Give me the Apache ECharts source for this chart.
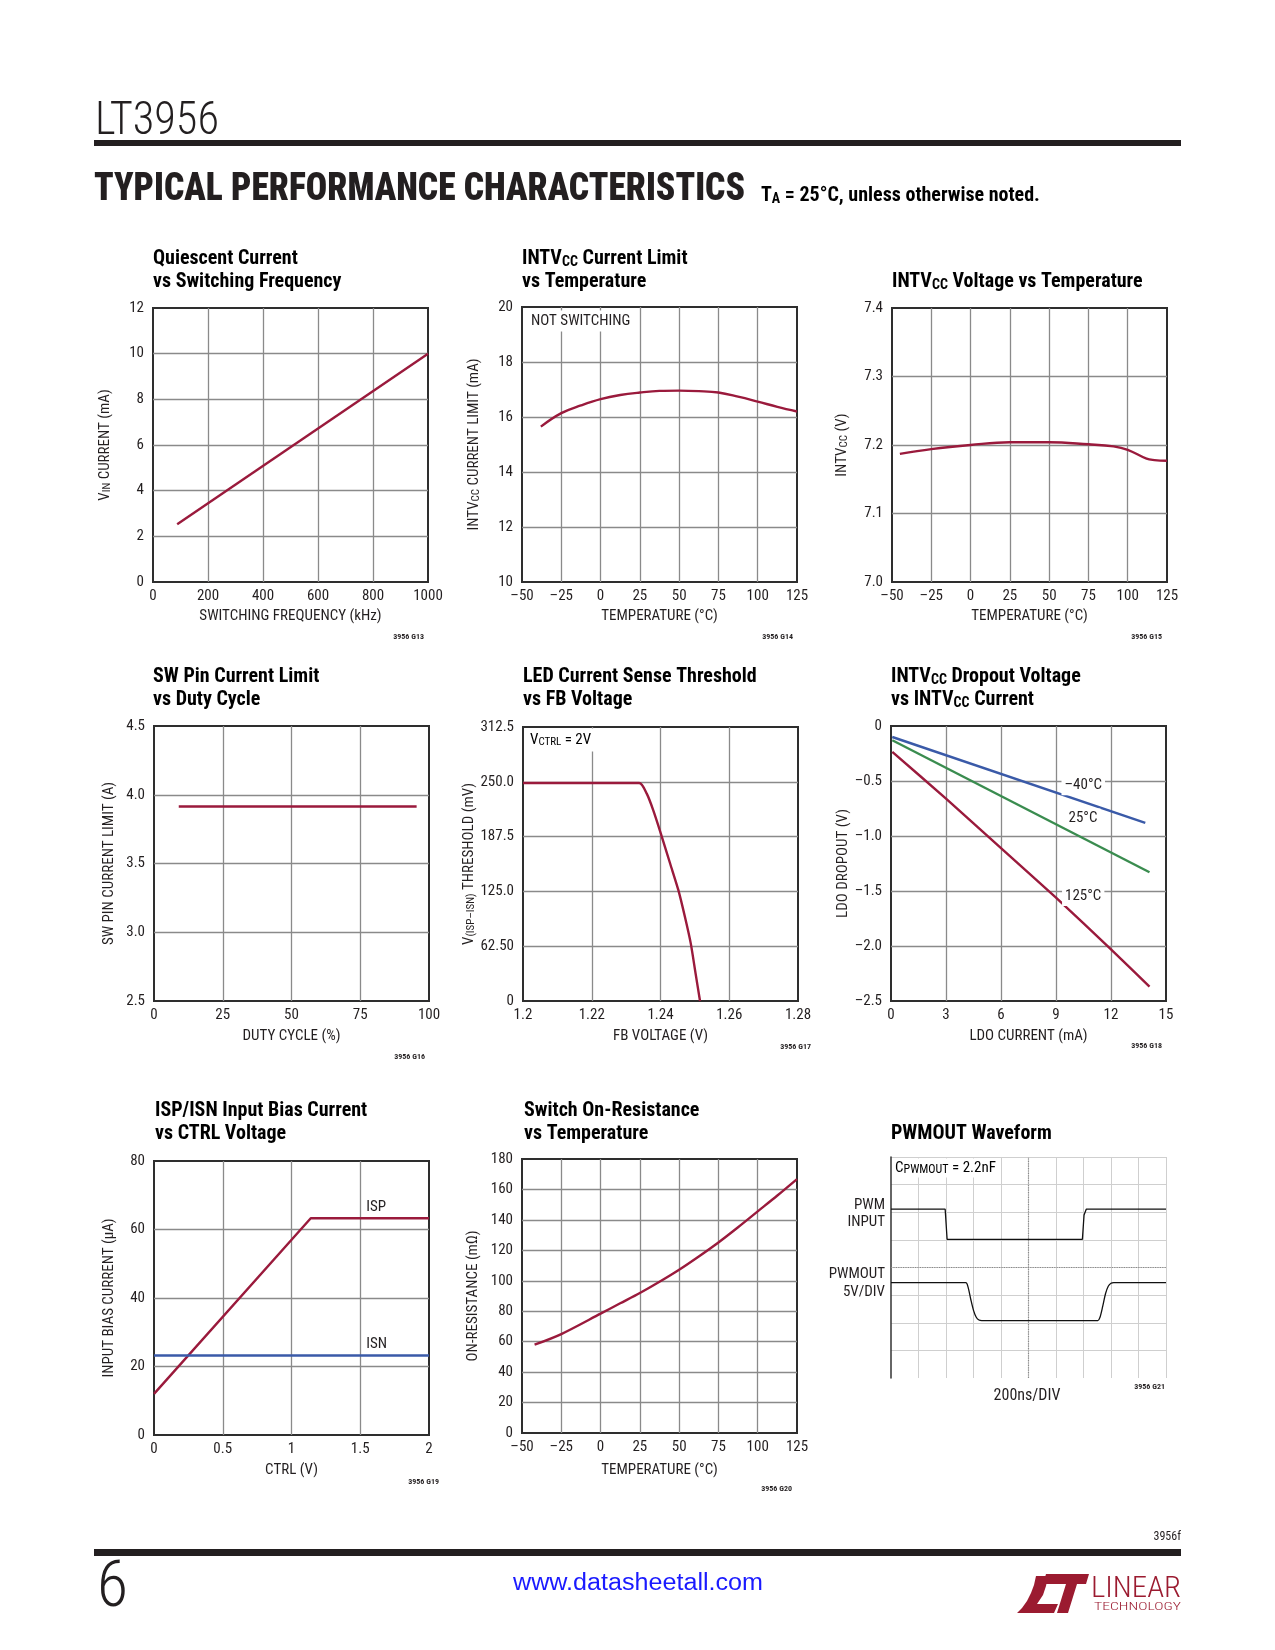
<!DOCTYPE html>
<html><head><meta charset="utf-8">
<script src="https://cdn.jsdelivr.net/npm/echarts@6/dist/echarts.min.js"></script>
<style>html,body{margin:0;padding:0;background:#fff}#c{width:1275px;height:1650px}</style>
</head><body><div id="c"></div>
<script>
// ---------- DATA ----------
const quiescentFreq = [88, 1000];
const quiescentCurrent = [2.53, 10];

const limitTemp = [-38, -25, -12.5, 0, 12.5, 25, 37.5, 50, 62.5, 75, 87.5, 100, 112.5, 125];
const limitCurrent = [15.65, 16.14, 16.42, 16.65, 16.8, 16.89, 16.95, 16.96, 16.94, 16.89, 16.74, 16.56, 16.37, 16.2];

const voltTemp = [-45, -25, 0, 25, 50, 75, 91, 100, 112, 117, 125];
const voltIntvcc = [7.187, 7.194, 7.200, 7.204, 7.204, 7.201, 7.198, 7.193, 7.180, 7.178, 7.177];

const swDuty = [9, 50, 95.5];
const swLimit = [3.915, 3.915, 3.915];

const fbVoltage = [1.2, 1.2338, 1.236, 1.2379, 1.2401, 1.2428, 1.2452, 1.2471, 1.2488, 1.2502, 1.2515];
const fbThreshold = [248.7, 248.7, 236.5, 217.5, 191, 156.8, 126.4, 96, 65.7, 31.5, 0];
const fbThresholdTicks = ['0', '62.50', '125.0', '187.5', '250.0', '312.5'];

const ldoCurrentM40 = [0.07, 13.87];
const ldoDropM40 = [-0.10, -0.88];
const ldoCurrent25 = [0.07, 14.1];
const ldoDrop25 = [-0.13, -1.33];
const ldoCurrent125 = [0.07, 3, 6, 9, 12, 14.1];
const ldoDrop125 = [-0.235, -0.66, -1.11, -1.56, -2.03, -2.37];
const ldoLabels = ['\u201340\u00b0C', '25\u00b0C', '125\u00b0C'];
const ldoLabelX = [9.3, 9.52, 9.33];
const ldoLabelY = [-0.543, -0.837, -1.55];

const ctrlIsp = [0, 1.14, 2];
const biasIsp = [12, 63.3, 63.3];
const ctrlIsn = [0, 2];
const biasIsn = [23.2, 23.2];
const biasLabels = ['ISP', 'ISN'];
const biasLabelX = [1.544, 1.544];
const biasLabelY = [66.5, 26.4];

const ronTemp = [-42, -25, 0, 12.5, 25, 37.5, 50, 62.5, 75, 87.5, 100, 112.5, 125];
const ronValue = [58, 65, 78.4, 85.2, 92, 99.4, 107.3, 116, 125.2, 135.2, 145.6, 156, 166.8];

const pwmTime = [0, 1.97, 2.04, 6.96, 7.02, 7.1, 10];
const pwmLevel = [6.11, 6.11, 5.02, 5.02, 5.9, 6.11, 6.11];
const pwmoutTime = [0, 2.72, 2.8, 2.9, 3.0, 3.1, 3.2, 3.3, 7.52, 7.6, 7.7, 7.8, 7.9, 8.0, 8.1, 10];
const pwmoutLevel = [3.45, 3.45, 3.3, 2.85, 2.45, 2.2, 2.1, 2.08, 2.08, 2.2, 2.6, 3.05, 3.32, 3.43, 3.45, 3.45];

const chartTitles = [
  ['Quiescent Current', 'vs Switching Frequency'],
  ['INTV_{CC} Current Limit', 'vs Temperature'],
  ['', 'INTV_{CC} Voltage vs Temperature'],
  ['SW Pin Current Limit', 'vs Duty Cycle'],
  ['LED Current Sense Threshold', 'vs FB Voltage'],
  ['INTV_{CC} Dropout Voltage', 'vs INTV_{CC} Current'],
  ['ISP/ISN Input Bias Current', 'vs CTRL Voltage'],
  ['Switch On-Resistance', 'vs Temperature'],
  ['', 'PWMOUT Waveform']
];
const chartCodes = ['3956 G13','3956 G14','3956 G15','3956 G16','3956 G17','3956 G18','3956 G19','3956 G20','3956 G21'];
const xNames = ['SWITCHING FREQUENCY (kHz)','TEMPERATURE (\u00b0C)','TEMPERATURE (\u00b0C)','DUTY CYCLE (%)','FB VOLTAGE (V)','LDO CURRENT (mA)','CTRL (V)','TEMPERATURE (\u00b0C)',''];
const yNames = ['V_{IN} CURRENT (mA)','INTV_{CC} CURRENT LIMIT (mA)','INTV_{CC} (V)','SW PIN CURRENT LIMIT (A)','V_{(ISP\u2013ISN)} THRESHOLD (mV)','LDO DROPOUT (V)','INPUT BIAS CURRENT (\u00b5A)','ON-RESISTANCE (m\u03a9)',''];

// ---------- LAYOUT / STYLE ----------
const F = "'Liberation Sans Narrow','Roboto Condensed','DejaVu Sans Condensed','Liberation Sans',sans-serif";
const INK = '#231f20';
const RED = '#9a1a3c', BLUE = '#3a5aa8', GREEN = '#3a8c4f';
const FS = 15;
const grids = [
  {left:153, top:308, width:275, height:274},
  {left:522, top:307, width:275, height:275},
  {left:892, top:308, width:275, height:274},
  {left:154, top:726, width:275, height:275},
  {left:523, top:727, width:275, height:274},
  {left:891, top:726, width:275, height:275},
  {left:154, top:1161, width:275, height:274},
  {left:522, top:1159, width:275, height:274},
  {left:891, top:1157, width:275, height:221}
];
const titleX = [153, 522, 892, 153, 523, 891, 155, 524, 891];
const titleBase = [265, 265, 265, 683, 683, 683, 1117, 1117, 1117];
const codePos = [[424,637],[793,637],[1162,637],[425,1057],[811,1047],[1162,1046],[439,1482],[792,1489],[1165,1387]];
const xNameGap = [27, 27, 27, 28, 28, 28, 28, 30, 0];
const yNameGap = [40, 40, 42, 37, 46, 36, 37, 41, 0];

const zip = (a, b) => a.map((v, i) => [v, b[i]]);
const dash = s => String(s).replace('-', '\u2013');

function toRich(str) {
  const parts = str.split(/_\{([^}]*)\}/);
  return parts.map((p, i) => p === '' ? '' : (i % 2 ? '{s|' + p + '}' : '{n|' + p + '}')).join('');
}
function richStyles(size, sub, drop, weight) {
  return {
    n: {fontSize: size, fontFamily: F, fontWeight: weight, color: INK, lineHeight: size, verticalAlign: 'middle'},
    s: {fontSize: sub, fontFamily: F, fontWeight: weight, color: INK, lineHeight: sub, verticalAlign: 'bottom', padding: [drop, 0, 0, 0]}
  };
}

const xCfg = [
  {min:0, max:1000, interval:200, fmt: v => String(v)},
  {min:-50, max:125, interval:25, fmt: dash},
  {min:-50, max:125, interval:25, fmt: dash},
  {min:0, max:100, interval:25, fmt: v => String(v)},
  {min:1.2, max:1.28, interval:0.02, fmt: v => String(parseFloat(v.toFixed(2)))},
  {min:0, max:15, interval:3, fmt: v => String(v)},
  {min:0, max:2, interval:0.5, fmt: v => String(parseFloat(v.toFixed(1)))},
  {min:-50, max:125, interval:25, fmt: dash},
  {min:0, max:10, interval:1, fmt: v => ''}
];
const yCfg = [
  {min:0, max:12, interval:2, fmt: v => String(v)},
  {min:10, max:20, interval:2, fmt: v => String(v)},
  {min:7.0, max:7.4, interval:0.1, fmt: v => v.toFixed(1)},
  {min:2.5, max:4.5, interval:0.5, fmt: v => v.toFixed(1)},
  {min:0, max:312.5, interval:62.5, fmt: (v, i) => fbThresholdTicks[i]},
  {min:-2.5, max:0, interval:0.5, fmt: v => v === 0 ? '0' : dash(v.toFixed(1))},
  {min:0, max:80, interval:20, fmt: v => String(v)},
  {min:0, max:180, interval:20, fmt: v => String(v)},
  {min:0, max:8, interval:1, fmt: v => ''}
];

const gridOpts = grids.map((g, i) => Object.assign({}, g, {
  show: i !== 8, borderColor: '#2e2e2e', borderWidth: 2, backgroundColor: 'transparent',
  containLabel: false, outerBoundsMode: 'none'
}));

const xAxes = xCfg.map((c, i) => ({
  type: 'value', gridIndex: i, min: c.min, max: c.max, interval: c.interval,
  axisLine: {show: false}, axisTick: {show: false},
  axisLabel: {show: i !== 8, formatter: c.fmt, fontFamily: F, fontSize: FS, color: INK, margin: 7},
  splitLine: {show: true, showMinLine: false, showMaxLine: i === 8,
    lineStyle: {color: i === 8 ? '#cfcfcf' : '#8a8a8a', width: i === 8 ? 1 : 1.3}},
  name: xNames[i], nameLocation: 'middle', nameGap: xNameGap[i],
  nameTextStyle: {fontFamily: F, fontSize: FS, color: INK}
}));
const yAxes = yCfg.map((c, i) => ({
  type: 'value', gridIndex: i, min: c.min, max: c.max, interval: c.interval,
  axisLine: {show: i === 8, lineStyle: {color: '#333', width: 1.5}}, axisTick: {show: false},
  axisLabel: {show: i !== 8, formatter: c.fmt, fontFamily: F, fontSize: FS, color: INK, margin: 9},
  splitLine: {show: true, showMinLine: false, showMaxLine: i === 8,
    lineStyle: {color: i === 8 ? '#cfcfcf' : '#8a8a8a', width: i === 8 ? 1 : 1.3}},
  name: toRich(yNames[i]), nameLocation: 'middle', nameGap: yNameGap[i],
  nameTextStyle: {fontFamily: F, fontSize: FS, color: INK, rich: richStyles(FS, 11, 9, 'normal')}
}));

function line(i, data, color, smooth, width) {
  return {type: 'line', xAxisIndex: i, yAxisIndex: i, data: data, showSymbol: false, symbol: 'none',
    smooth: smooth, lineStyle: {color: color, width: width || 2.4}, z: 5, animation: false};
}
function labels(i, xs, ys, texts, bg) {
  return {type: 'scatter', xAxisIndex: i, yAxisIndex: i, symbolSize: 0, z: 6, animation: false,
    itemStyle: {opacity: 1, color: 'transparent'}, emphasis: {disabled: true},
    data: xs.map((x, k) => ({value: [x, ys[k]], name: texts[k]})),
    label: {show: true, position: 'right', distance: 0, formatter: p => p.name,
      fontFamily: F, fontSize: FS, color: INK, opacity: 1,
      backgroundColor: bg ? '#fff' : 'transparent', padding: bg ? [2, 3] : 0}};
}

const series = [
  line(0, zip(quiescentFreq, quiescentCurrent), RED, false),
  line(1, zip(limitTemp, limitCurrent), RED, 0.4),
  line(2, zip(voltTemp, voltIntvcc), RED, 0.4),
  line(3, zip(swDuty, swLimit), RED, false),
  line(4, zip(fbVoltage, fbThreshold), RED, 0.25),
  line(5, zip(ldoCurrentM40, ldoDropM40), BLUE, false),
  line(5, zip(ldoCurrent25, ldoDrop25), GREEN, false),
  line(5, zip(ldoCurrent125, ldoDrop125), RED, 0.2),
  labels(5, ldoLabelX, ldoLabelY, ldoLabels, true),
  line(6, zip(ctrlIsp, biasIsp), RED, false),
  line(6, zip(ctrlIsn, biasIsn), BLUE, false),
  labels(6, biasLabelX, biasLabelY, biasLabels, false),
  line(7, zip(ronTemp, ronValue), RED, 0.3),
  Object.assign(line(8, zip(pwmTime, pwmLevel), '#111', false, 1.3), {
    markLine: {silent: true, symbol: 'none', label: {show: false}, animation: false,
      lineStyle: {type: 'dotted', color: '#8a8a8a', width: 1.2},
      data: [{xAxis: 5}, {yAxis: 4}]}
  }),
  line(8, zip(pwmoutTime, pwmoutLevel), '#111', 0.3, 1.3)
];

// ---------- TEXT GRAPHICS ----------
const cv = document.createElement('canvas').getContext('2d');
function measure(text, font) { cv.font = font; return cv.measureText(text).width; }
function fitText(text, x, y, size, weight, family, targetW, color, align) {
  const w = measure(text, weight + ' ' + size + 'px ' + family);
  const sx = targetW / w;
  const ax = align === 'center' ? x - targetW / 2 : (align === 'right' ? x - targetW : x);
  return {type: 'text', x: ax, y: y, scaleX: sx, scaleY: 1, z: 10,
    style: {text: text, fontSize: size, fontWeight: weight, fontFamily: family, fill: color || INK,
      align: 'left', verticalAlign: 'middle'}};
}
function txt(x, y, text, size, opts) {
  opts = opts || {};
  return {type: 'text', x: x, y: y, z: 10, style: Object.assign({
    text: text, fontSize: size, fontFamily: F, fill: INK, align: 'left', verticalAlign: 'middle'}, opts)};
}
function richTxt(x, y, str, size, sub, drop, weight, extra) {
  return {type: 'text', x: x, y: y, z: 10, style: Object.assign({
    text: toRich(str), rich: richStyles(size, sub, drop, weight), fontFamily: F, fontSize: size,
    align: 'left', verticalAlign: 'middle'}, extra || {})};
}

const graphics = [];
// header
graphics.push(fitText('LT3956', 95, 122, 46, '300', F, 124, INK, 'left'));
graphics.push({type: 'rect', shape: {x: 94, y: 140, width: 1087, height: 6}, style: {fill: INK}, z: 10});
graphics.push(fitText('TYPICAL PERFORMANCE CHARACTERISTICS', 94, 190, 39, '900', F, 651, INK, 'left'));
graphics.push(richTxt(761, 196, 'T_{A} = 25\u00b0C, unless otherwise noted.', 20, 14, 10, 'bold'));
// footer
graphics.push(txt(1181, 1537, '3956f', 12, {align: 'right'}));
graphics.push({type: 'rect', shape: {x: 94, y: 1549, width: 1087, height: 7}, style: {fill: INK}, z: 10});
graphics.push(fitText('6', 97, 1590, 64, '300', F, 31, INK, 'left'));
graphics.push(fitText('www.datasheetall.com', 638, 1584, 23, 'normal', "'Liberation Sans',sans-serif", 250, '#1a1aff', 'center'));
// logo
const LOGO = '#9b1b30';
graphics.push({type: 'polygon', z: 10, shape: {points: [[1017,1613],[1022,1608],[1027,1601],[1031,1593],[1034,1585],[1036,1576],[1048,1576],[1046,1586],[1043,1595],[1037,1604],[1058,1604],[1054,1613]]},
  style: {fill: LOGO}});
graphics.push({type: 'polygon', z: 10, shape: {points: [[1046,1574],[1089,1574],[1086,1584],[1077,1584],[1068,1613],[1057,1613],[1066,1584],[1043,1584]]},
  style: {fill: LOGO}});
graphics.push(fitText('LINEAR', 1091, 1589, 30, '300', F, 90, LOGO, 'left'));
graphics.push(fitText('TECHNOLOGY', 1094, 1607, 11, '300', F, 87, LOGO, 'left'));

// chart titles & codes
chartTitles.forEach((lines, i) => {
  lines.forEach((ln, k) => {
    if (!ln) return;
    graphics.push(richTxt(titleX[i], titleBase[i] + 23 * k - 6, ln, 20, 14, 11, 'bold'));
  });
  graphics.push(txt(codePos[i][0], codePos[i][1], chartCodes[i], 8, {align: 'right', fontWeight: 'bold'}));
});
// annotations
graphics.push(txt(529, 321, 'NOT SWITCHING', FS, {backgroundColor: '#fff', padding: [3, 2]}));
graphics.push(richTxt(526, 740, 'V_{CTRL} = 2V', FS, 11, 9, 'normal', {backgroundColor: '#fff', padding: [4, 4]}));
graphics.push(richTxt(893, 1168, 'C_{PWMOUT} = 2.2nF', FS, 12, 8, 'normal', {backgroundColor: '#fff', padding: [2, 2]}));
graphics.push(txt(885, 1205, 'PWM', FS, {align: 'right'}));
graphics.push(txt(885, 1222, 'INPUT', FS, {align: 'right'}));
graphics.push(txt(885, 1274, 'PWMOUT', FS, {align: 'right'}));
graphics.push(txt(885, 1292, '5V/DIV', FS, {align: 'right'}));
graphics.push(txt(1027, 1396, '200ns/DIV', 16, {align: 'center'}));

const chart = echarts.init(document.getElementById('c'), null, {renderer: 'canvas'});
chart.setOption({
  animation: false,
  backgroundColor: '#fff',
  grid: gridOpts,
  xAxis: xAxes,
  yAxis: yAxes,
  series: series,
  graphic: graphics
});
</script></body></html>
